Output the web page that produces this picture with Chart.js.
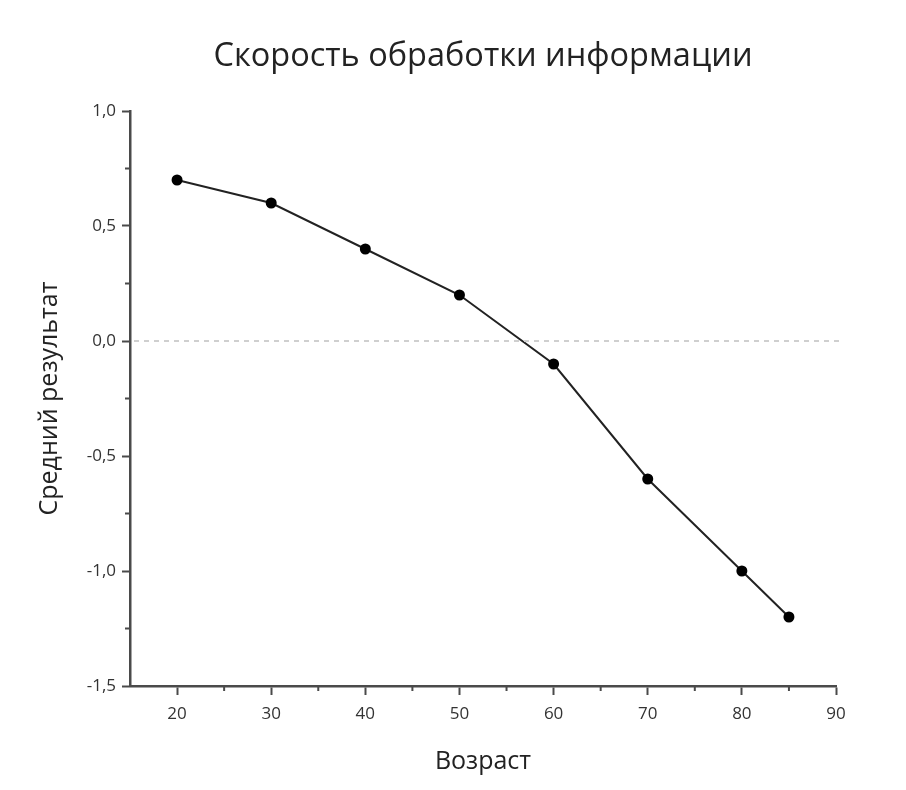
<!DOCTYPE html>
<html>
<head>
<meta charset="utf-8">
<script src="https://cdn.jsdelivr.net/npm/chart.js@4.4.1/dist/chart.umd.min.js"></script>
<style>
  body { margin: 0; background: #fff; }
  #wrap { width: 906px; height: 790px; }
</style>
</head>
<body>
<div id="wrap"><canvas id="line-chart" width="906" height="790"></canvas></div>
<script>
// data
var ages = [20, 30, 40, 50, 60, 70, 80, 85];
var scores = [0.7, 0.6, 0.4, 0.2, -0.1, -0.6, -1.0, -1.2];
var xRange = [15, 90];
var yRange = [-1.5, 1.0];

var axisColor = '#4a4a4a';
var fontName = '"Open Sans", "Noto Sans", sans-serif';

function fmt(v) {
  return v.toFixed(1).replace('.', ',');
}
function isMajorX(v) { return v % 10 === 0; }
function isMajorY(v) { return Math.abs(v * 2 - Math.round(v * 2)) < 1e-6; }

// minor ticks are shorter than major ones, and a dashed zero line
var extras = {
  id: 'extras',
  afterDraw: function (chart) {
    var ctx = chart.ctx;
    var xs = chart.scales.x, ys = chart.scales.y;
    var area = chart.chartArea;
    ctx.save();
    ctx.strokeStyle = axisColor;
    ctx.lineWidth = 2;
    xs.ticks.forEach(function (t) {
      if (isMajorX(t.value) || t.value === xRange[0]) return;
      var px = xs.getPixelForValue(t.value);
      ctx.beginPath();
      ctx.moveTo(px, area.bottom);
      ctx.lineTo(px, area.bottom + 5);
      ctx.stroke();
    });
    ys.ticks.forEach(function (t) {
      if (isMajorY(t.value)) return;
      var py = ys.getPixelForValue(t.value);
      ctx.beginPath();
      ctx.moveTo(area.left, py);
      ctx.lineTo(area.left - 5, py);
      ctx.stroke();
    });
    // dashed line at zero
    var y0 = ys.getPixelForValue(0);
    ctx.strokeStyle = '#cfcfcf';
    ctx.lineWidth = 2;
    ctx.setLineDash([5, 5]);
    ctx.beginPath();
    ctx.moveTo(area.left + 4, y0);
    ctx.lineTo(area.right + 8, y0);
    ctx.stroke();
    ctx.restore();
  }
};

new Chart(document.getElementById('line-chart'), {
  type: 'line',
  data: {
    datasets: [{
      label: 'Средний результат',
      data: ages.map(function (a, i) { return { x: a, y: scores[i] }; }),
      borderColor: '#222',
      borderWidth: 2,
      pointBackgroundColor: '#000',
      pointBorderColor: '#000',
      pointRadius: 4.5,
      tension: 0
    }]
  },
  options: {
    responsive: false,
    animation: false,
    layout: { padding: { left: 24, right: 70, top: 0, bottom: 10 } },
    plugins: {
      legend: { display: false },
      tooltip: { enabled: false },
      title: {
        display: true,
        text: 'Скорость обработки информации',
        fullSize: false,
        color: '#222',
        font: { family: fontName, size: 32.5, weight: 'normal' },
        padding: { top: 37, bottom: 35 }
      }
    },
    scales: {
      x: {
        type: 'linear',
        min: xRange[0],
        max: xRange[1],
        ticks: {
          stepSize: 5,
          autoSkip: false,
          maxRotation: 0,
          color: '#333',
          padding: 9,
          font: { family: fontName, size: 17 },
          callback: function (v) { return isMajorX(v) ? String(v) : ''; }
        },
        grid: {
          drawOnChartArea: false,
          tickLength: 9,
          tickWidth: 2,
          tickColor: function (c) {
            return c.tick && isMajorX(c.tick.value) ? axisColor : 'rgba(0,0,0,0)';
          }
        },
        border: { color: axisColor, width: 2.5 },
        title: {
          display: true,
          text: 'Возраст',
          color: '#222',
          font: { family: fontName, size: 25 },
          padding: { top: 0, bottom: 3 }
        },
        afterFit: function (s) { s.height = 94; }
      },
      y: {
        min: yRange[0],
        max: yRange[1],
        ticks: {
          stepSize: 0.25,
          autoSkip: false,
          color: '#333',
          padding: 6,
          font: { family: fontName, size: 17 },
          callback: function (v) { return isMajorY(v) ? fmt(v) : ''; }
        },
        grid: {
          drawOnChartArea: false,
          tickLength: 8,
          tickWidth: 2,
          tickColor: function (c) {
            return c.tick && isMajorY(c.tick.value) ? axisColor : 'rgba(0,0,0,0)';
          }
        },
        border: { color: axisColor, width: 2.5 },
        title: {
          display: true,
          text: 'Средний результат',
          color: '#222',
          font: { family: fontName, size: 25 },
          padding: { top: 11, bottom: 0 }
        },
        afterFit: function (s) { s.width = 106; }
      }
    }
  },
  plugins: [extras]
});
</script>
</body>
</html>
